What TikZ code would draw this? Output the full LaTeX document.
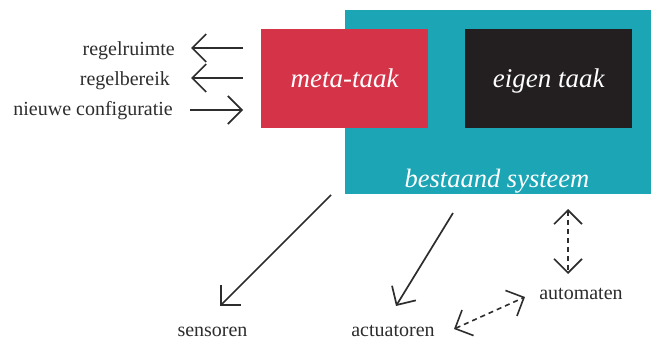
\documentclass[tikz,border=0pt]{standalone}
\usepackage{fontspec}
\setmainfont{Liberation Serif}
\usetikzlibrary{arrows.meta}
\definecolor{sysblue}{RGB}{27,165,181}
\definecolor{metared}{RGB}{213,51,72}
\definecolor{taskblack}{RGB}{35,31,32}
\definecolor{inkgray}{RGB}{45,45,45}
\begin{document}
\begin{tikzpicture}[x=1pt,y=-1pt,
  lbl/.style={text=inkgray,font=\fontsize{20}{24}\selectfont,inner sep=0pt},
  panel/.style={inner sep=0pt,minimum width=167pt,minimum height=99pt,
    text=white,font=\itshape\fontsize{27}{32}\selectfont,
    text height=17pt,text depth=0pt},
  barb/.tip={Straight Barb[length=14pt,width=28pt]},
  link/.style={draw=inkgray,line width=1.7pt,-barb},
  twoway/.style={draw=inkgray,line width=1.6pt,dash pattern=on 5pt off 4pt,barb-barb}]
\useasboundingbox (0,0) rectangle (656,343);

% existing system with its two tasks
\node (sys) [fill=sysblue,inner sep=0pt,minimum width=306pt,minimum height=184pt,
  anchor=north west] at (345,10) {};
\node (sysname) [anchor=base,text=white,inner sep=0pt,
  font=\itshape\fontsize{26.5}{31}\selectfont] at (497,187) {bestaand systeem};
\node (meta) [panel,fill=metared,anchor=north west] at (261,29) {meta-taak};
\node (own)  [panel,fill=taskblack,anchor=north west] at (465,29) {eigen taak};

% inputs and outputs of the meta task
\node (rr) [lbl,anchor=base east] at (175,55) {regelruimte};
\node (rb) [lbl,anchor=base east] at (170,85) {regelbereik};
\node (nc) [lbl,anchor=base east] at (173,115) {nieuwe configuratie};
\coordinate (rrA) at (243,48);  \coordinate (rrB) at (191,48);
\coordinate (rbA) at (243,78);  \coordinate (rbB) at (191,78);
\coordinate (ncA) at (190,110); \coordinate (ncB) at (243,110);
\draw[link] (rrA) -- (rrB);
\draw[link] (rbA) -- (rbB);
\draw[link] (ncA) -- (ncB);

% surroundings
\node (sens) [lbl,anchor=base] at (212.5,336) {sensoren};
\node (act)  [lbl,anchor=base] at (393,336) {actuatoren};
\node (auto) [lbl,anchor=base] at (581,299) {automaten};
\coordinate (sensA) at (331,195); \coordinate (sensB) at (220,306);
\coordinate (actA) at (453,213);  \coordinate (actB) at (396,306);
\coordinate (autoA) at (568,209); \coordinate (autoB) at (568,274);
\coordinate (pairA) at (454,329); \coordinate (pairB) at (525,297);
\draw[link] (sensA) -- (sensB);
\draw[link] (actA) -- (actB);
\draw[twoway] (autoA) -- (autoB);
\draw[twoway] (pairA) -- (pairB);
\end{tikzpicture}
\end{document}
